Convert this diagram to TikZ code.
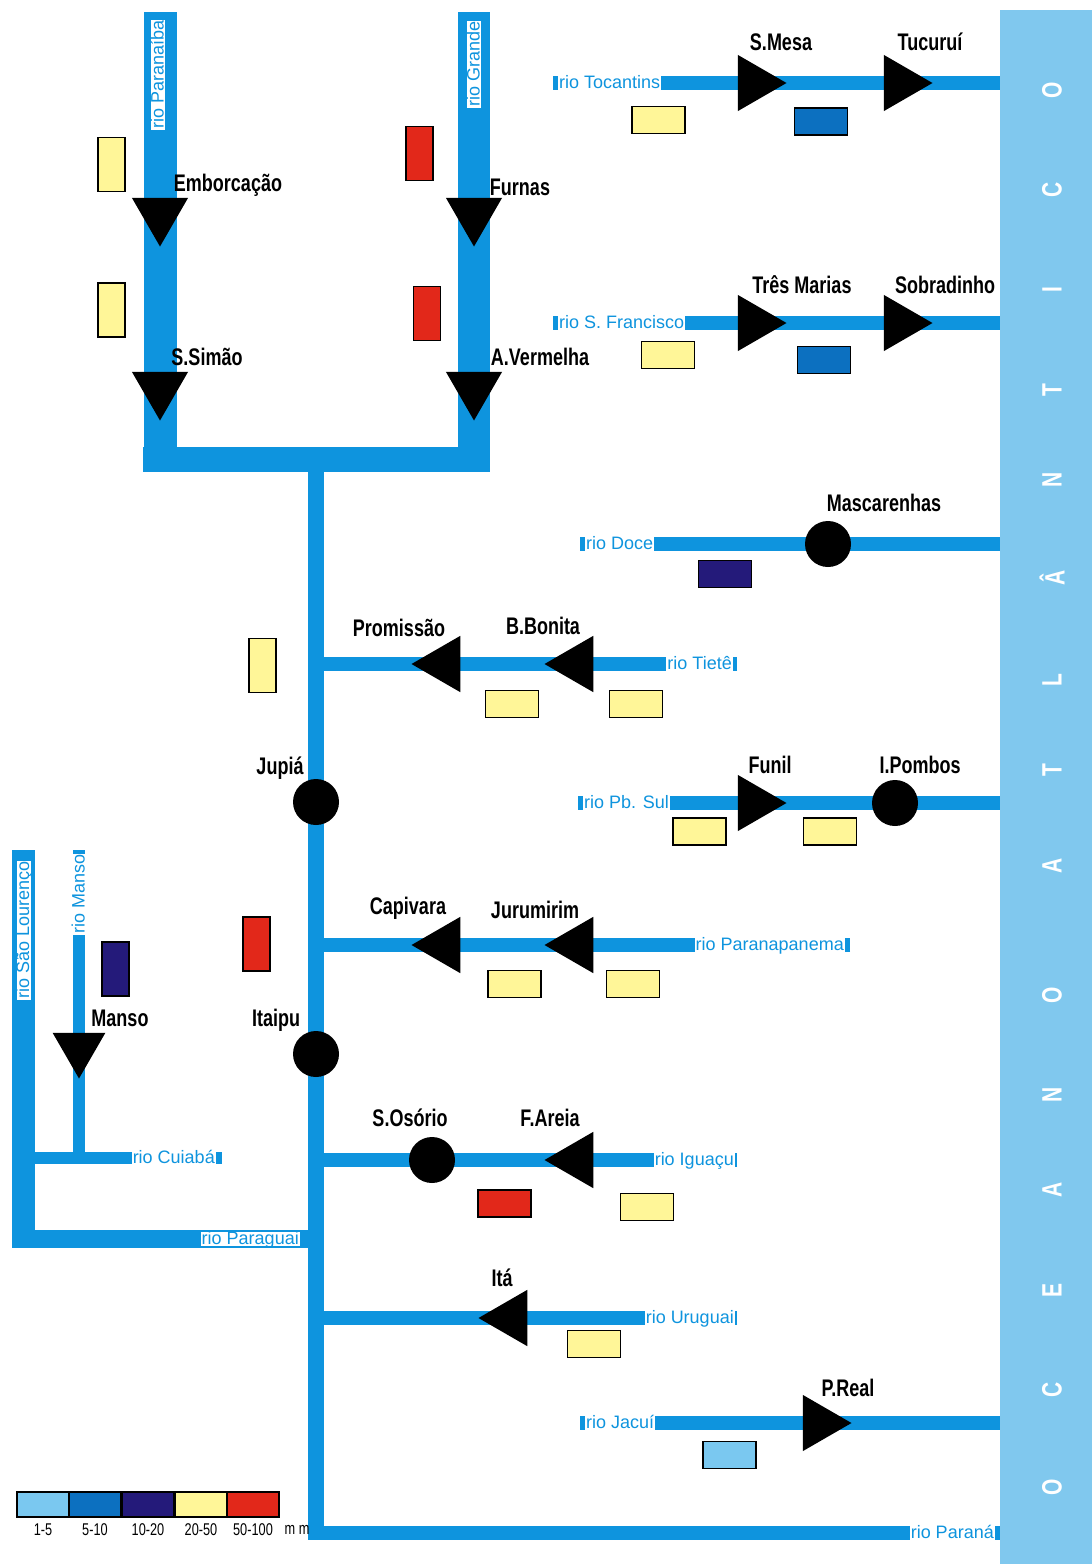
\documentclass[tikz,border=0pt]{standalone}
\usepackage{fontspec}
\setmainfont{Liberation Sans}
\newfontfamily\damfont[FakeStretch=0.75]{Liberation Sans}
\usepackage{tikz}
\usetikzlibrary{shapes.geometric,positioning}

\definecolor{riverblue}{RGB}{14,148,222}
\definecolor{oceanblue}{RGB}{128,200,238}
\definecolor{rainA}{RGB}{122,200,240}
\definecolor{rainB}{RGB}{12,112,192}
\definecolor{rainC}{RGB}{36,26,122}
\definecolor{rainD}{RGB}{255,246,152}
\definecolor{rainE}{RGB}{226,40,26}

\pgfdeclarelayer{bg}
\pgfsetlayers{bg,main}

\tikzset{
  river/.style={draw=riverblue, line width=14pt},
  rivlabel/.style={fill=white, text=riverblue, inner xsep=1pt, inner ysep=0.5pt,
    text height=12pt, text depth=1pt, font=\fontsize{18}{18}\selectfont},
  damname/.style={inner sep=0pt, font=\damfont\bfseries\fontsize{24}{24}\selectfont},
  dam/.style={regular polygon, regular polygon sides=3, fill=black,
    minimum size=65pt, inner sep=0pt, outer sep=0pt},
  pointright/.style={dam, regular polygon rotate=-90},
  pointleft/.style={dam, regular polygon rotate=90},
  pointdown/.style={dam, regular polygon rotate=180},
  plant/.style={circle, fill=black, minimum size=46pt, inner sep=0pt},
  rainh/.style={draw=black, line width=1.2pt, fill=#1, inner sep=0pt,
    minimum width=53pt, minimum height=27pt},
  rainv/.style={rainh=#1, minimum width=27pt, minimum height=54pt},
  oceanletter/.style={rotate=90, text=white, inner sep=0pt,
    font=\damfont\bfseries\fontsize{28}{28}\selectfont},
  keytext/.style={inner sep=0pt, font=\damfont\fontsize{17}{17}\selectfont}
}

\begin{document}
\begin{tikzpicture}[x=1pt,y=-1pt]
    \useasboundingbox (0,0) rectangle (1092,1564);

    % oceano
    \fill[oceanblue] (1000,10) rectangle (1092,1564);
    \foreach \y/\l in {1487/O,1390/C,1290/E,1190/A,1095/N,995/O,866/A,770/T,
        680/L,578/Â,480/N,390/T,290/I,190/C,90/O}
        \node[oceanletter] (ocean\y) at (1052,\y) {\l};

    % usinas
    \node[pointdown] (emborcacao) at (160,214) {};
    \node[pointdown] (ssimao) at (160,388) {};
    \node[pointdown] (furnas) at (474,214) {};
    \node[pointdown] (avermelha) at (474,388) {};
    \node[pointright] (smesa) at (754,83) {};
    \node[pointright] (tucurui) at (900,83) {};
    \node[pointright] (tresmarias) at (754,323) {};
    \node[pointright] (sobradinho) at (900,323) {};
    \node[plant] (mascarenhas) at (828,544) {};
    \node[pointleft] (promissao) at (444,664) {};
    \node[pointleft] (bbonita) at (577,664) {};
    \node[plant] (jupia) at (316,802) {};
    \node[pointright] (funil) at (754,803) {};
    \node[plant] (ipombos) at (895,803) {};
    \node[pointleft] (capivara) at (444,945) {};
    \node[pointleft] (jurumirim) at (577,945) {};
    \node[plant] (itaipu) at (316,1054) {};
    \node[pointdown, minimum size=61pt] (manso) at (79,1048) {};
    \node[plant] (sosorio) at (432,1160) {};
    \node[pointleft] (fareia) at (577,1160) {};
    \node[pointleft] (ita) at (511,1318) {};
    \node[pointright] (preal) at (819,1423) {};

    % nomes das usinas
    \node[damname] (l-emborcacao) at (228,185) {Emborcação};
    \node[damname] (l-ssimao) at (207,357) {S.Simão};
    \node[damname] (l-furnas) at (520,187) {Furnas};
    \node[damname] (l-avermelha) at (540,357) {A.Vermelha};
    \node[damname] (l-smesa) at (781,42) {S.Mesa};
    \node[damname] (l-tucurui) at (930,42) {Tucuruí};
    \node[damname] (l-tresmarias) at (802,285) {Três Marias};
    \node[damname] (l-sobradinho) at (945,285) {Sobradinho};
    \node[damname] (l-mascarenhas) at (884,503) {Mascarenhas};
    \node[damname] (l-promissao) at (399,628) {Promissão};
    \node[damname] (l-bbonita) at (543,626) {B.Bonita};
    \node[damname] (l-jupia) at (280,768) {Jupiá};
    \node[damname] (l-funil) at (770,765) {Funil};
    \node[damname] (l-ipombos) at (920,765) {I.Pombos};
    \node[damname] (l-capivara) at (408,908) {Capivara};
    \node[damname] (l-jurumirim) at (535,910) {Jurumirim};
    \node[damname] (l-itaipu) at (276,1020) {Itaipu};
    \node[damname] (l-manso) at (120,1018) {Manso};
    \node[damname] (l-sosorio) at (410,1118) {S.Osório};
    \node[damname] (l-fareia) at (550,1118) {F.Areia};
    \node[damname] (l-ita) at (502,1278) {Itá};
    \node[damname] (l-preal) at (848,1388) {P.Real};

    % chuva
    \node[rainv=rainD] (r-emborcacao) at (111.5,164.5) {};
    \node[rainv=rainD] (r-ssimao) at (111.5,310) {};
    \node[rainv=rainE] (r-furnas) at (419.5,153.5) {};
    \node[rainv=rainE] (r-avermelha) at (427,313.5) {};
    \node[rainh=rainD] (r-smesa) at (658.5,120) {};
    \node[rainh=rainB] (r-tucurui) at (821,121.5) {};
    \node[rainh=rainD] (r-tresmarias) at (668,355) {};
    \node[rainh=rainB] (r-sobradinho) at (824,360) {};
    \node[rainh=rainC] (r-mascarenhas) at (725,574) {};
    \node[rainv=rainD] (r-jupia) at (262.5,665.5) {};
    \node[rainh=rainD] (r-promissao) at (512,704) {};
    \node[rainh=rainD] (r-bbonita) at (636,704) {};
    \node[rainh=rainD] (r-funil) at (699.5,831.5) {};
    \node[rainh=rainD] (r-ipombos) at (830,831.5) {};
    \node[rainv=rainE] (r-itaipu) at (256.5,944) {};
    \node[rainh=rainD] (r-capivara) at (514.5,984) {};
    \node[rainh=rainD] (r-jurumirim) at (633,984) {};
    \node[rainv=rainC] (r-manso) at (115.5,969) {};
    \node[rainh=rainE] (r-sosorio) at (504.5,1203.5) {};
    \node[rainh=rainD] (r-fareia) at (647,1207) {};
    \node[rainh=rainD] (r-ita) at (594,1344) {};
    \node[rainh=rainA] (r-preal) at (729.5,1455) {};

    % legenda
    \foreach \c/\t/\x in {rainA/1-5/43, rainB/5-10/95, rainC/10-20/148,
        rainD/20-50/201, rainE/50-100/253} {
        \node[rainh=\c, minimum width=52pt, minimum height=25pt] (key\x) at (\x,1504.5) {};
        \node[keytext] (keyt\x) at (\x,1530) {\t};
    }
    \node[keytext] (key-mm) at (297,1530) {m m};
    \draw[line width=1.5pt] (key43.north west) rectangle (key253.south east);

    % nomes dos rios
    \node[rivlabel, rotate=90, anchor=west] (n-paranaiba) at (158,130) {rio Paranaíba};
    \node[rivlabel, rotate=90, anchor=west] (n-grande) at (474,108) {rio Grande};
    \node[rivlabel, anchor=west] (n-tocantins) at (558,83) {rio Tocantins};
    \node[rivlabel, anchor=west] (n-sfrancisco) at (558,323) {rio S. Francisco};
    \node[rivlabel, anchor=west] (n-doce) at (585,544) {rio Doce};
    \node[rivlabel, anchor=east] (n-tiete) at (733,664) {rio Tietê};
    \node[rivlabel, anchor=west] (n-pbsul) at (583,803) {rio Pb. Sul};
    \node[rivlabel, anchor=east] (n-paranapanema) at (845,945) {rio Paranapanema};
    \node[rivlabel, anchor=east] (n-iguacu) at (735,1160) {rio Iguaçu};
    \node[rivlabel, anchor=east] (n-uruguai) at (735,1318) {rio Uruguai};
    \node[rivlabel, anchor=west] (n-jacui) at (585,1423) {rio Jacuí};
    \node[rivlabel, anchor=east] (n-parana) at (995,1533) {rio Paraná};
    \node[rivlabel, anchor=east] (n-paraguai) at (300,1239) {rio Paraguai};
    \node[rivlabel, anchor=east] (n-cuiaba) at (216,1158) {rio Cuiabá};
    \node[rivlabel, rotate=90, anchor=west] (n-slourenco) at (23.5,1000) {rio São Lourenço};
    \node[rivlabel, rotate=90, anchor=west] (n-manso) at (79,935) {rio Manso};

    % pontas dos rios
    \coordinate (pnb-src) at (160,12);
    \coordinate (pnb-end) at (160,472);
    \coordinate (grd-src) at (474,12);
    \coordinate (grd-end) at (474,472);
    \coordinate (bar-w) at (143,459.5);
    \coordinate (bar-e) at (490,459.5);
    \coordinate (trunk-top) at (316,472);
    \coordinate (trunk-end) at (316,1540);
    \coordinate (prn-w) at (308,1533);
    \coordinate (prn-sea) at (1000,1533);

    \begin{pgfonlayer}{bg}
    \fill[white] (0,0) rectangle (1092,1564);
    \draw[river, line width=33pt] (pnb-src) -- (emborcacao.center) -- (ssimao.center) -- (pnb-end);
    \draw[river, line width=32pt] (grd-src) -- (furnas.center) -- (avermelha.center) -- (grd-end);
    \draw[river, line width=25pt] (bar-w) -- (bar-e);
    \draw[river, line width=16pt] (trunk-top) -- (jupia.center) -- (itaipu.center) -- (trunk-end);
    \draw[river] (prn-w) -- (prn-sea);
    \draw[river] (553,83) -- (smesa.center) -- (tucurui.center) -- (1000,83);
    \draw[river] (553,323) -- (tresmarias.center) -- (sobradinho.center) -- (1000,323);
    \draw[river] (580,544) -- (mascarenhas.center) -- (1000,544);
    \draw[river] (737,664) -- (bbonita.center) -- (promissao.center) -- (316,664);
    \draw[river] (578,803) -- (funil.center) -- (ipombos.center) -- (1000,803);
    \draw[river] (850,945) -- (jurumirim.center) -- (capivara.center) -- (316,945);
    \draw[river] (737,1160) -- (fareia.center) -- (sosorio.center) -- (316,1160);
    \draw[river] (737,1318) -- (ita.center) -- (316,1318);
    \draw[river] (580,1423) -- (preal.center) -- (1000,1423);
    \draw[river, line width=23pt] (23.5,850) -- (23.5,1248);
    \draw[river, line width=18pt] (12,1239) -- (316,1239);
    \draw[river, line width=12pt] (35,1158) -- (222,1158);
    \draw[river, line width=12pt] (79,850) -- (manso.center) -- (79,1158);
    \end{pgfonlayer}
\end{tikzpicture}
\end{document}
